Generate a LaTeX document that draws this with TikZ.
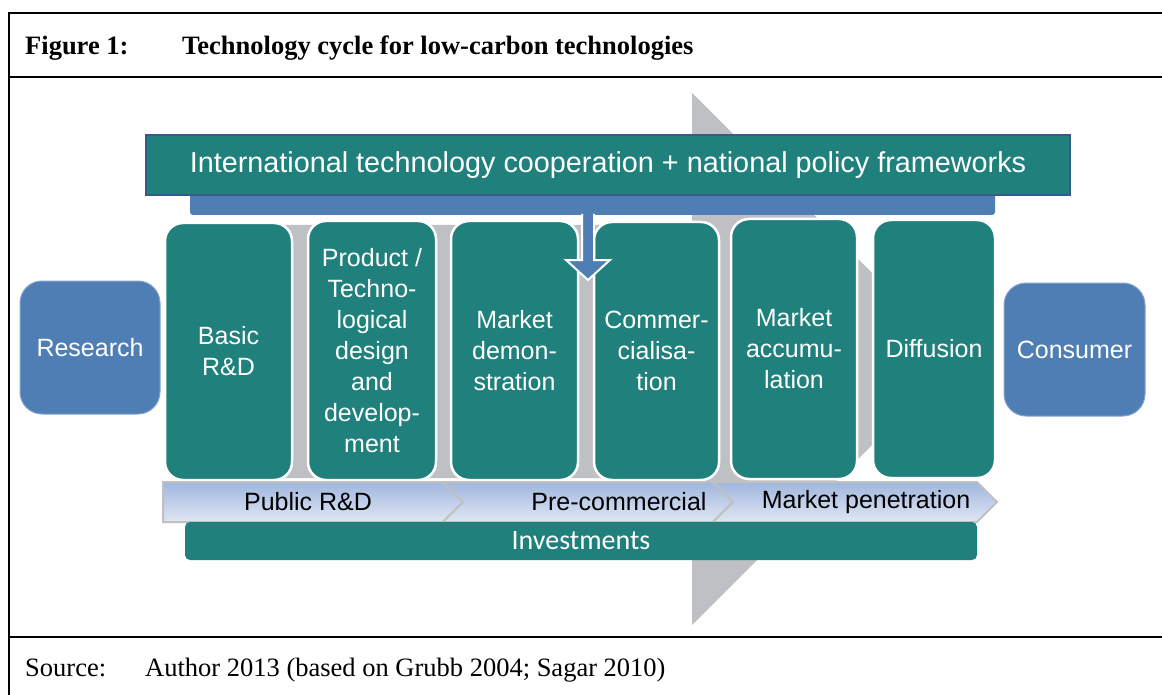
\documentclass[tikz,border=0pt]{standalone}
\usepackage{fontspec}
\setmainfont{Liberation Serif}
\setsansfont{Liberation Sans}
\newfontfamily\calibfont{Carlito}
\definecolor{teal1}{RGB}{31,128,124}
\definecolor{blue1}{RGB}{79,126,181}
\definecolor{bannerborder}{RGB}{59,88,140}
\definecolor{greyarrow}{RGB}{191,192,196}
\definecolor{chevtop}{RGB}{160,182,222}
\definecolor{chevbot}{RGB}{224,231,244}
\definecolor{chevline}{RGB}{192,192,192}
\begin{document}
\begin{tikzpicture}[x=1pt,y=-1pt,
  stage/.style={draw=white, line width=2.5pt, fill=teal1, rounded corners=18pt, text=white,
    font=\sffamily\fontsize{25}{31}\selectfont, align=center, inner sep=0pt},
  endbox/.style={draw=blue1!70!white, line width=1pt, fill=blue1, rounded corners=22pt, text=white,
    font=\sffamily\fontsize{25}{31}\selectfont, inner sep=0pt},
  chev/.style={draw=chevline, line width=2pt, top color=chevtop, bottom color=chevbot},
  chevtext/.style={font=\sffamily\fontsize{25}{30}\selectfont, text=black, inner sep=0pt},
  frameline/.style={line width=2.5pt, black},
  serifbig/.style={font=\fontsize{26.5}{30}\selectfont, inner sep=0pt, anchor=base west}
]
\useasboundingbox (0,0) rectangle (1162,695);
\fill[white] (0,0) rectangle (1162,695);

% frame
\draw[frameline] (1162,13) -- (9,13) -- (9,695);
\draw[frameline] (9,77) -- (1162,77);
\draw[frameline] (9,637) -- (1162,637);

% title and source
\node[serifbig, font=\bfseries\fontsize{26.5}{30}\selectfont] (figlabel) at (25,55) {Figure 1:};
\node[serifbig, font=\bfseries\fontsize{26.5}{30}\selectfont] (figtitle) at (182,55) {Technology cycle for low-carbon technologies};
\node[serifbig] (srclabel) at (25,676) {Source:};
\node[serifbig] (srctext) at (145,676) {Author 2013 (based on Grubb 2004; Sagar 2010)};

% big grey arrow in the background
\fill[greyarrow] (200,225) -- (692,225) -- (692,93) -- (958,359) -- (692,625) -- (692,478) -- (200,478) -- cycle;

% blue bar and banner
\fill[blue1, rounded corners=3pt] (190,190) rectangle (995,215);
\node[draw=bannerborder, line width=2.5pt, fill=teal1, minimum width=924pt, minimum height=60pt,
  inner sep=0pt, text=white, font=\sffamily\fontsize{28.8}{32}\selectfont] (banner) at (608,165)
  {International technology cooperation + national policy frameworks};

% stages
\node[stage, minimum width=127pt, minimum height=257pt] (basic) at (228.5,351.5) {Basic\\R\&D};
\node[stage, minimum width=128pt, minimum height=259pt] (product) at (372,350.5)
  {Product /\\Techno-\\logical\\design\\and\\develop-\\ment};
\node[stage, minimum width=127pt, minimum height=259pt] (demo) at (514.5,350.5) {Market\\demon-\\stration};
\node[stage, minimum width=125pt, minimum height=258pt] (comm) at (656.5,351) {Commer-\\cialisa-\\tion};
\node[stage, minimum width=126pt, minimum height=260pt] (accum) at (794,349) {Market\\accumu-\\lation};
\node[stage, minimum width=122pt, minimum height=258pt] (diff) at (934,349) {Diffusion};

% research and consumer
\node[endbox, minimum width=140pt, minimum height=133pt] (research) at (90,347.5) {Research};
\node[endbox, minimum width=141pt, minimum height=133pt] (consumer) at (1074.5,349.5) {Consumer};

% chevrons
\path[chev] (163,482) -- (443,482) -- (463,502) -- (443,522) -- (163,522) -- cycle;
\path[chev] (443,482) -- (713,482) -- (733,502) -- (713,522) -- (443,522) -- (463,502) -- cycle;
\path[chev] (713,482) -- (977,482) -- (997,502) -- (977,522) -- (713,522) -- (733,502) -- cycle;
\node[chevtext] (publicrd) at (308,502) {Public R\&D};
\node[chevtext] (precomm) at (619,502) {Pre-commercial};
\node[chevtext] (marketpen) at (866,502) {Market penetration};

% investments bar
\node[fill=teal1, rounded corners=5pt, minimum width=792pt, minimum height=38pt, inner sep=0pt] (invbar) at (581,541) {};
\node[text=white, font=\calibfont\fontsize{28}{32}\selectfont, inner sep=0pt] (invtext) at (581,541) {Investments};

% down arrow from policy bar
\coordinate (arrowtop) at (588,214);
\filldraw[fill=blue1, draw=white, line width=2pt]
  (arrowtop) ++(-6,0) -- ++(0,46) -- ++(-16,0) -- (588,280) -- (610,260) -- (594,260) -- (594,214);
\end{tikzpicture}
\end{document}
